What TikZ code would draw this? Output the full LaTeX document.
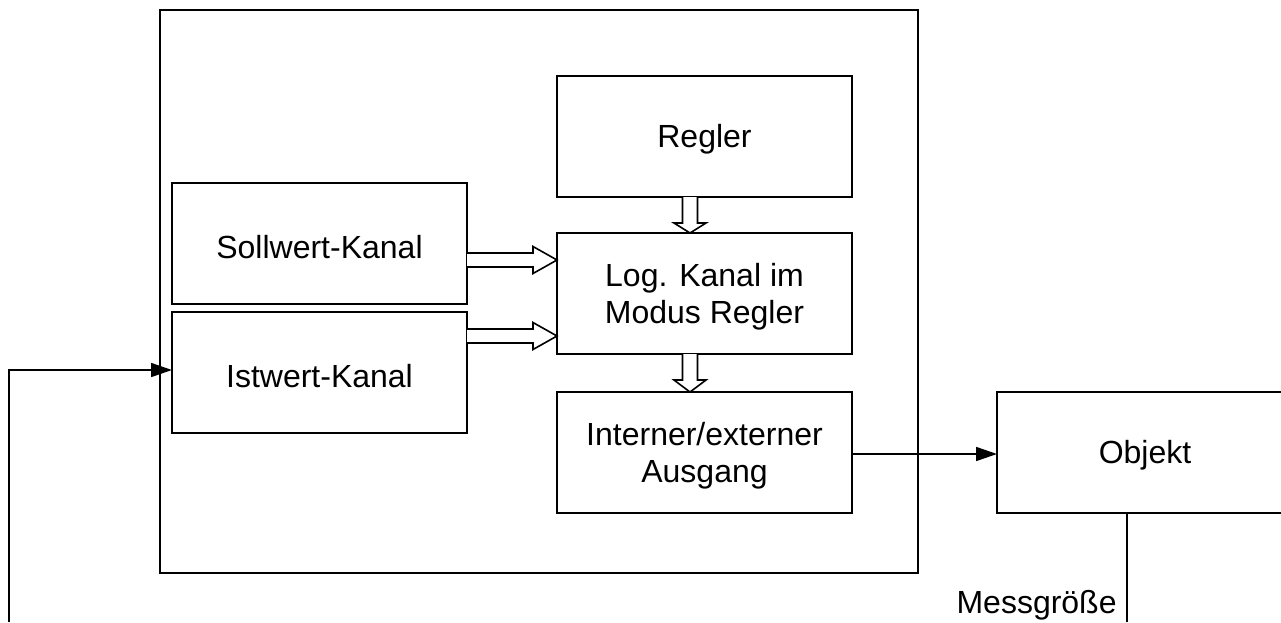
\documentclass[tikz,border=0pt]{standalone}
\usepackage{fontspec}
\setmainfont{Liberation Sans}
\usetikzlibrary{arrows.meta,calc}
\newcommand\hollowH[3]{%
  \draw[hollow] let \p1=(#1), \p2=(#2), \p3=(0,#3) in
    (\x1,\y3-3.5pt) -- (\x2-12pt,\y3-3.5pt) -- (\x2-12pt,\y3-6.75pt) -- (\x2,\y3)
    -- (\x2-12pt,\y3+6.75pt) -- (\x2-12pt,\y3+3.5pt) -- (\x1,\y3+3.5pt);}
\newcommand\hollowV[4]{%
  \draw[hollow] let \p1=(#1), \p2=(#2), \p3=(#3,0) in
    (\x3-3.75pt,\y1) -- (\x3-3.75pt,\y2+#4) -- (\x3-8pt,\y2+#4) -- (\x3,\y2)
    -- (\x3+8pt,\y2+#4) -- (\x3+3.75pt,\y2+#4) -- (\x3+3.75pt,\y1);}
\begin{document}
\begin{tikzpicture}[x=0.5pt,y=-0.5pt,
  box/.style={draw, line width=0.9pt, rectangle, inner sep=0pt, outer sep=0pt,
    minimum width=147.5pt, minimum height=60.5pt},
  txt/.style={inner sep=0pt, yshift=-1.6pt,
    font=\fontsize{16}{18.5}\selectfont, align=center},
  hollow/.style={draw, line width=0.8pt, fill=white, line join=miter},
  wire/.style={draw, line width=0.8pt},
  tip/.style={-{Triangle[length=10.5pt,width=7pt]}}]
\useasboundingbox (0,0) rectangle (1281,622);
\clip (0,0) rectangle (1281,622);
\fill[white] (0,0) rectangle (1281,622);

\node[box, minimum width=379pt, minimum height=281.5pt] (outer) at (539,291.5) {};
\node[box] (regler) at (704.5,136.5) {};
\node[box] (soll) at (319.5,243.5) {};
\node[box] (ist) at (319.5,372.5) {};
\node[box] (log) at (704.5,293.5) {};
\node[box] (intern) at (704.5,452.5) {};
\node[box, minimum width=148pt] (obj) at (1145,452.5) {};

\node[txt] (reglerT) at (regler.center) {Regler};
\node[txt] (sollT) at (soll.center) {Sollwert-Kanal};
\node[txt] (istT) at (ist.center) {Istwert-Kanal};
\node[txt] (logT) at (log.center) {Log. Kanal im\\Modus Regler};
\node[txt] (internT) at (intern.center) {Interner/externer\\Ausgang};
\node[txt] (objT) at (obj.center) {Objekt};

\hollowH{soll.east}{log.west}{260}
\hollowH{ist.east}{log.west}{336}
\hollowV{regler.south}{log.north}{690}{5pt}
\hollowV{log.south}{intern.north}{690}{6pt}

\draw[wire,tip] (intern.east |- 0,454) -- (obj.west |- 0,454);

\coordinate (mEnd) at (1127,622);
\draw[wire] (obj.south -| mEnd) -- (mEnd);
\node[anchor=base east, inner sep=0pt, font=\fontsize{16}{18.5}\selectfont] (mlabel) at (1117,613) {Messgröße};

\coordinate (fbStart) at (9,622);
\coordinate (fbCorner) at (9,370);
\draw[wire,tip] (fbStart) -- (fbCorner) -- (ist.west |- fbCorner);
\end{tikzpicture}
\end{document}
